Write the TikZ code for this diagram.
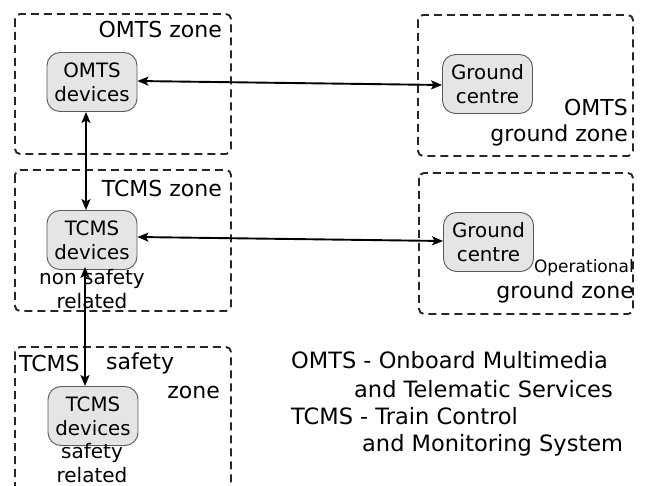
\documentclass[tikz,border=0pt]{standalone}
\usepackage{fontspec}
\setmainfont{DejaVu Sans}
\usetikzlibrary{arrows.meta}

\begin{document}
\begin{tikzpicture}[x=1pt,y=-1pt,
  zone/.style={draw=black!85, line width=1.9pt, dash pattern=on 8pt off 5pt, rounded corners=5pt},
  device/.style={draw=black!65, fill=black!10, line width=0.9pt, rounded corners=13pt,
    minimum width=90pt, minimum height=59pt, align=center, inner sep=0pt,
    font=\fontsize{19.8}{24}\selectfont},
  link/.style={line width=1.9pt, {Stealth[length=11pt,width=9pt,inset=2.5pt]}-{Stealth[length=11pt,width=9pt,inset=2.5pt]}},
  zlabel/.style={font=\fontsize{22}{26}\selectfont, inner sep=0pt},
  slabel/.style={font=\fontsize{20}{23}\selectfont, inner sep=0pt},
  legend/.style={font=\fontsize{22.5}{26}\selectfont, inner sep=0pt, anchor=west},
]
\path[use as bounding box] (0,0) rectangle (645,486);
\clip (0,0) rectangle (645,486);

% zones
\draw[zone] (15,14) rectangle (231,154);
\draw[zone] (15,170) rectangle (231,311);
\draw[zone] (15,347) rectangle (231,500);
\draw[zone] (418,15) rectangle (633,156);
\draw[zone] (419,173) rectangle (633,314);

% zone labels
\node[zlabel, anchor=east] (lomts) at (222,29) {OMTS zone};
\node[zlabel, anchor=east] (ltcms) at (222,188) {TCMS zone};
\node[zlabel, anchor=east] (lgo1) at (628,107) {OMTS};
\node[zlabel, anchor=east] (lgo2) at (628,135) {ground zone};
\node[font=\fontsize{17}{20}\selectfont, inner sep=0pt, anchor=east] (lop1) at (634,268) {Operational};
\node[zlabel, anchor=east] (lop2) at (634,292) {ground zone};
\node[zlabel, anchor=west] (ls1) at (19,363) {TCMS};
\node[zlabel, anchor=west] (ls2) at (106,363) {safety};
\node[zlabel, anchor=east] (ls3) at (220,392) {zone};

% devices
\node[device] (omts) at (92,82) {OMTS\\devices};
\node[device] (gc1) at (487.5,84) {Ground\\centre};
\node[device] (tcms) at (92,240) {TCMS\\devices};
\node[device] (gc2) at (488.5,242) {Ground\\centre};
\node[device] (tcs) at (93,416) {TCMS\\devices};

% notes under the TCMS devices
\node[slabel] (ns1) at (92,279) {non safety};
\node[slabel] (ns2) at (92,301) {related};
\node[slabel] (sr1) at (92,453) {safety};
\node[slabel] (sr2) at (92,475) {related};

% legend
\node[legend] (lg1) at (291,360) {OMTS - Onboard Multimedia};
\node[legend] (lg2) at (354,389) {and Telematic Services};
\node[legend] (lg3) at (291,416) {TCMS - Train Control};
\node[legend] (lg4) at (362,445) {and Monitoring System};

% links
\draw[link] ([yshift=1pt]omts.east) -- ([yshift=-1pt]gc1.west);
\draw[link] ([yshift=3pt]tcms.east) -- ([yshift=1pt]gc2.west);
\draw[link] ([xshift=-6pt]omts.south) -- ([xshift=-6pt]tcms.north);
\draw[link] ([xshift=-7pt,yshift=3pt]tcms.south) -- ([xshift=-8pt]tcs.north);
\end{tikzpicture}
\end{document}
